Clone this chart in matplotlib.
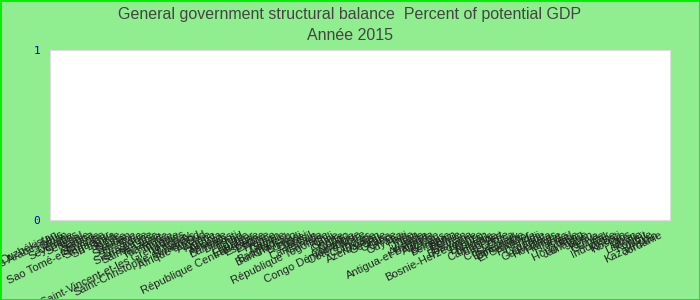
import matplotlib.pyplot as plt
import numpy as np

title = "General government structural balance  Percent of potential GDP"
subtitle = "Année 2015"

countries = [
    "Ouzbékistan", "Emirats Arabes Unis", "Oman", "Ukraine", "Seychelles",
    "Sénégal", "Serbie", "Samoa", "Slovénie", "Sao Tomé-et-Principe",
    "Singapour", "Sri Lanka", "Suède", "Suisse", "Soudan",
    "Suriname", "Syrie", "Slovaquie", "Sierra Leone", "Sainte-Lucie",
    "Tanzanie", "Thaïlande", "Tunisie", "Turquie", "Saint-Vincent-et-les Grenadines",
    "Uruguay", "Saint-Christophe-et-Niévès", "Swaziland", "Afrique du Sud", "Albanie",
    "Algérie", "Angola", "Arménie", "Bahamas", "Djibouti",
    "Tchad", "Egypte", "Equateur", "République Centrafricaine", "Espagne",
    "Estonie", "France", "Gabon", "Gambie", "Bangladesh",
    "Burkina Faso", "Burundi", "Brunei", "Brésil", "Cameroun",
    "Canada", "République Togolaise", "Chili", "Chine", "Chypre",
    "Congo", "Colombie", "Congo Démocratique", "Côte d'Ivoire", "Comores",
    "Croatie", "Azerbaïdjan", "Géorgie", "Ghana", "Grèce",
    "Guyana", "Haïti", "Inde", "Iran", "Irlande",
    "Australie", "Antigua-et-Barbuda", "Autriche", "Bélarus", "Belgique",
    "Bénin", "Bolivie", "Bahreïn", "Botswana", "Bosnie-Herzégovine",
    "Belize", "Bhoutan", "Bulgarie", "Cambodge", "Cap-Vert",
    "Corée", "Costa Rica", "Danemark", "Dominique", "El Salvador",
    "Finlande", "Fidji", "Grenade", "Guatemala", "Honduras",
    "Hongrie", "Islande", "Israël", "Italie", "Hong Kong",
    "Jamaïque", "Japon", "Kenya", "Guinée", "Irak",
    "Indonésie", "Kiribati", "Kosovo", "Laos", "Liban",
    "Lettonie", "Koweït", "Libye", "Kazakhstan", "Jordanie",
]
# no value is shown for 2015 in the reference: every bar is missing
values = [np.nan] * len(countries)

fig = plt.figure(figsize=(7, 3), dpi=100, facecolor="#90ee90")
ax = fig.add_axes([50 / 700, 80 / 300, 620 / 700, 170 / 300])

x = np.arange(len(countries))
ax.bar(x, values, color="#4472c4")

ax.set_xlim(-0.9, len(countries) + 0.8)
ax.set_ylim(0, 1)
ax.set_yticks([0, 1])
ax.set_yticklabels(["0", "1"], color="#0000cc", fontsize=8, family="DejaVu Sans Mono")
ax.set_xticks(x)
ax.set_xticklabels(countries, rotation=26, ha="right", rotation_mode="anchor",
                   fontsize=8, family="Liberation Sans", color="#222222")
ax.tick_params(axis="both", length=0)
ax.tick_params(axis="x", pad=7)
ax.tick_params(axis="y", pad=7)
for s in ax.spines.values():
    s.set_color("#dddddd")

fig.text(0.5, 1 - 14 / 300, title, ha="center", va="center", fontsize=11.5,
         family="Liberation Sans", color="#444444")
fig.text(0.5, 1 - 36 / 300, subtitle, ha="center", va="center", fontsize=11.5,
         family="Liberation Sans", color="#444444")

border = plt.Rectangle((0, 0), 1, 1, transform=fig.transFigure, fill=False,
                       edgecolor="#00ee00", linewidth=2)
fig.patches.append(border)

fig.savefig("out.png", dpi=100, facecolor=fig.get_facecolor())
